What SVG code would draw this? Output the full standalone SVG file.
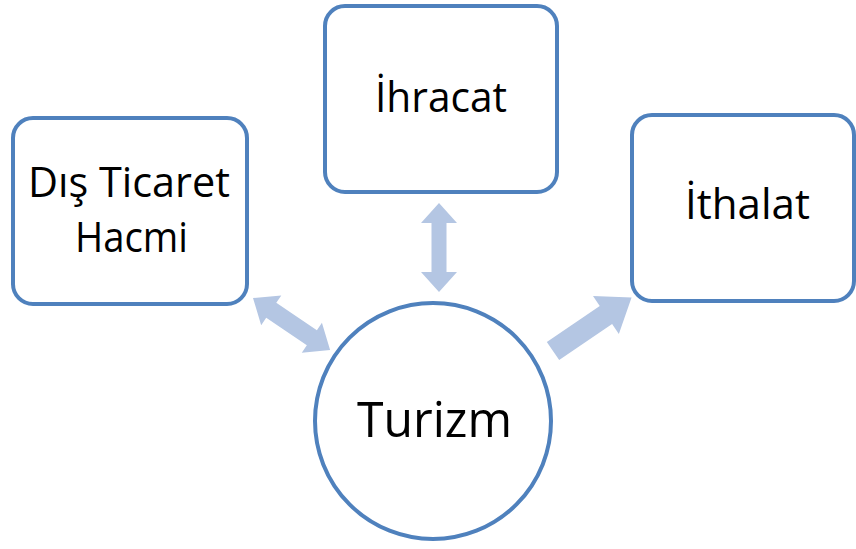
<svg xmlns="http://www.w3.org/2000/svg" width="856" height="549" viewBox="0 0 856 549">
<style>
.node{fill:#ffffff;stroke:#4f81bd;stroke-width:4}
.lbl{font-family:"Open Sans","Noto Sans",sans-serif;fill:#000;text-anchor:middle;font-size:42px}
.arr{fill:#b4c6e3}
</style>
<rect width="856" height="549" fill="#ffffff"/>
<g id="connectors">
<polygon class="arr" transform="translate(253,298) rotate(34)" points="0,0 22,-18 22,-9 71,-9 71,-18 93,0 71,18 71,9 22,9 22,18"/>
<polygon class="arr" transform="translate(439,203) rotate(90)" points="0,0 20,-18 20,-7.5 69,-7.5 69,-18 89,0 69,18 69,7.5 20,7.5 20,18"/>
<polygon class="arr" transform="translate(553,351) rotate(-34.2)" points="0,-11 64,-11 64,-23 95,0 64,23 64,11 0,11"/>
</g>
<g id="dis-ticaret">
<rect class="node" x="13" y="118" width="234" height="186" rx="20"/>
<text class="lbl" x="129" y="197" textLength="202" lengthAdjust="spacingAndGlyphs">Dış Ticaret</text>
<text class="lbl" x="131.5" y="252" textLength="113" lengthAdjust="spacingAndGlyphs">Hacmi</text>
</g>
<g id="ihracat">
<rect class="node" x="325" y="6" width="232" height="186" rx="20"/>
<text class="lbl" x="441" y="112" textLength="132" lengthAdjust="spacingAndGlyphs">İhracat</text>
</g>
<g id="ithalat">
<rect class="node" x="632" y="115" width="222" height="186" rx="20"/>
<text class="lbl" x="747.5" y="219" textLength="125" lengthAdjust="spacingAndGlyphs">İthalat</text>
</g>
<g id="turizm">
<circle class="node" cx="433" cy="421" r="118"/>
<text class="lbl" x="434.5" y="437" style="font-size:49px" textLength="155" lengthAdjust="spacingAndGlyphs">Turizm</text>
</g>
</svg>
